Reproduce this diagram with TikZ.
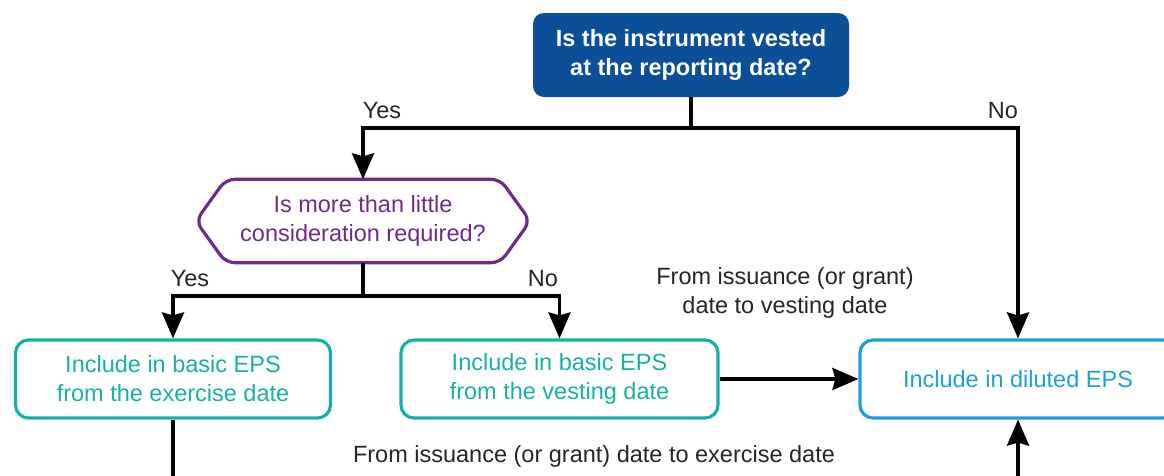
\documentclass[tikz,border=0pt]{standalone}
\usepackage{fontspec}
\setmainfont{Liberation Sans}
\usetikzlibrary{arrows.meta,positioning}
\definecolor{kblue}{HTML}{0A4F98}
\definecolor{kpurple}{HTML}{6D2C8D}
\definecolor{kteal}{HTML}{17B0A4}
\definecolor{klight}{HTML}{1E9FDC}
\tikzset{>={Stealth[length=26pt,width=22pt,inset=3pt]}}
\tikzset{
  qbox/.style={rectangle,rounded corners=11pt,fill=kblue,text=white,
    font=\fontsize{23.5}{29}\selectfont\bfseries,align=center,
    minimum width=316pt,minimum height=84pt},
  qhex/.style={align=center,text=kpurple,font=\fontsize{23.5}{29}\selectfont,
    minimum width=334pt,minimum height=83pt},
  hexline/.style={draw=kpurple,line width=3.2pt,rounded corners=9pt},
  ebox/.style={rectangle,rounded corners=13pt,draw,line width=3.2pt,align=center,
    font=\fontsize{23.5}{29}\selectfont,minimum height=78pt},
  conn/.style={line width=3.3pt},
  lbl/.style={font=\fontsize{23.5}{29}\selectfont,text=black!85,align=center}
}

\begin{document}
\begin{tikzpicture}[x=1pt,y=-1pt]
  \useasboundingbox (0,0) rectangle (1164,475);
  \clip (0,0) rectangle (1164,475);

  % Questions
  \node[qbox] (vested) at (691,55) {Is the instrument vested\\at the reporting date?};
  \node[qhex] (little) at (363,221) {Is more than little\\consideration required?};
  \draw[hexline] ([xshift=30pt]little.north west) -- ([xshift=-30pt]little.north east)
    -- (little.east) -- ([xshift=-30pt]little.south east)
    -- ([xshift=30pt]little.south west) -- (little.west) -- cycle;

  % Outcomes
  \node[ebox,draw=kteal,text=kteal,minimum width=315pt] (basicex) at (173,379) {Include in basic EPS\\from the exercise date};
  \node[ebox,draw=kteal,text=kteal,minimum width=317pt] (basicvest) at (559.5,379) {Include in basic EPS\\from the vesting date};
  \node[ebox,draw=klight,text=klight,minimum width=316pt] (diluted) at (1018,379) {Include in diluted EPS};

  % Branches
  \coordinate (split1) at (691,128);
  \coordinate (split2) at (363,296);
  \draw[conn] (vested.south) -- (split1);
  \draw[conn,->] (split1) -| (little.north);
  \draw[conn,->] (split1) -| (diluted.north);
  \draw[conn] (little.south) -- (split2);
  \draw[conn,->] (split2) -| (basicex.north);
  \draw[conn,->] (split2) -| (basicvest.north);
  \draw[conn,->] (basicvest.east) -- (diluted.west);
  \draw[conn,->] (basicex.south) -- ++(0,110) -| (diluted.south);

  % Labels
  \node[lbl] (yes1) at (382,111) {Yes};
  \node[lbl] (no1) at (1003,111) {No};
  \node[lbl] (yes2) at (190,279) {Yes};
  \node[lbl] (no2) at (543,279) {No};
  \node[lbl] (tovest) at (785,293) {From issuance (or grant)\\date to vesting date};
  \node[lbl] (toexer) at (594,456) {From issuance (or grant) date to exercise date};

\end{tikzpicture}
\end{document}
